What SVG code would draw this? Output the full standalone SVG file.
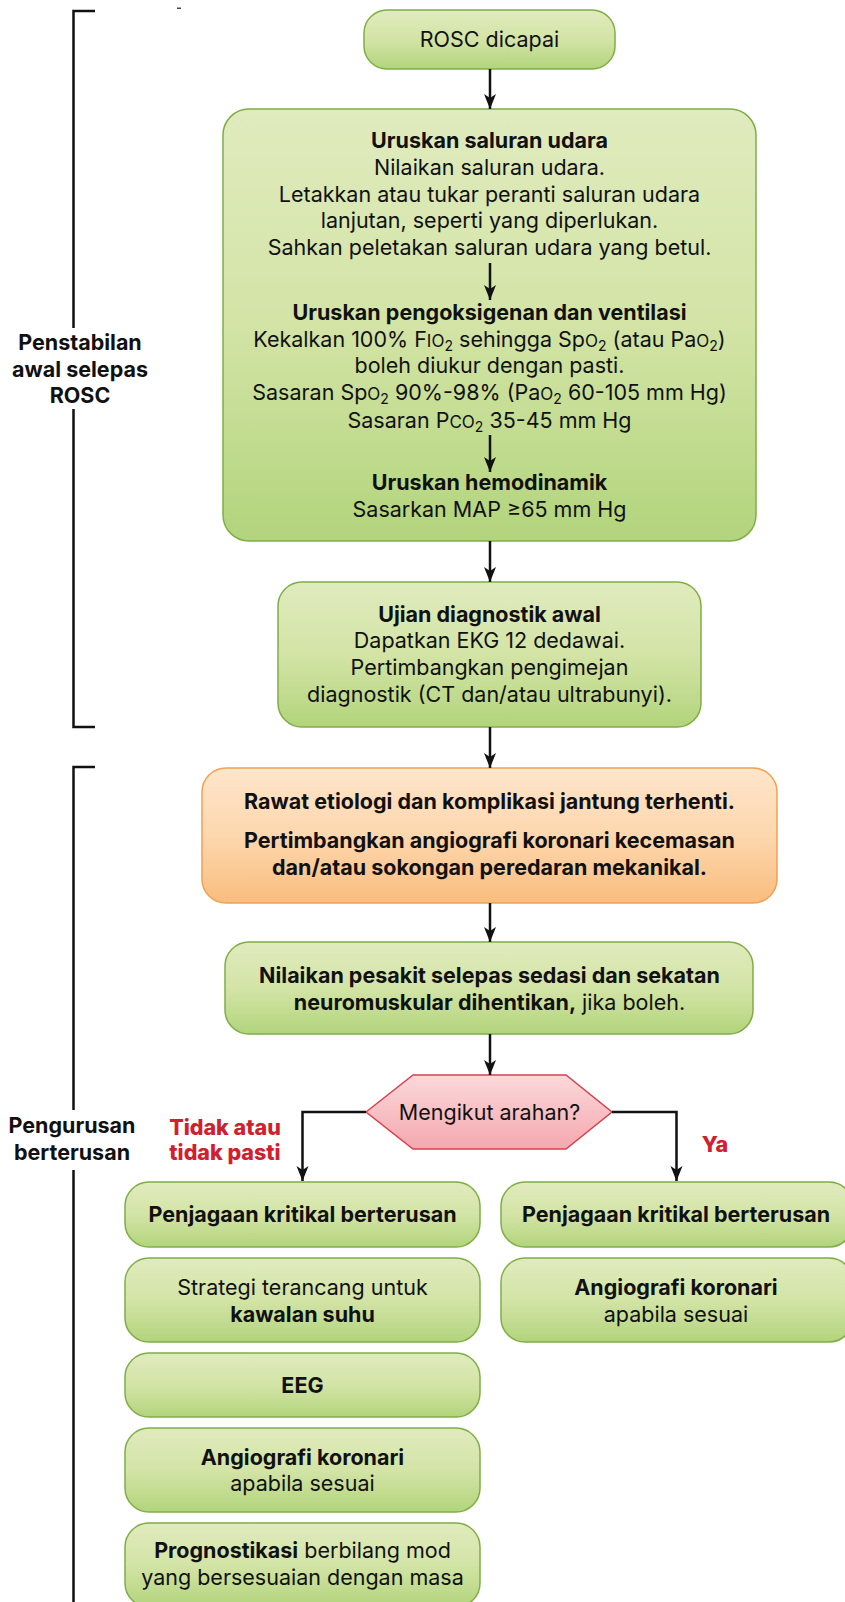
<svg xmlns="http://www.w3.org/2000/svg" width="845" height="1602" viewBox="0 0 845 1602">
<style>
.t{font-family:Inter,"Liberation Sans",Arial,sans-serif;font-size:21.5px;fill:#111;text-anchor:middle}
.b{font-weight:700}
.red{fill:#d0202f;font-weight:800}
.sc{font-size:17px}
.sub{font-size:14px}
.g{fill:url(#gg);stroke:#7fae45;stroke-width:1.5}
.o{fill:url(#go);stroke:#eea252;stroke-width:1.5}
.p{fill:url(#gp);stroke:#d8404e;stroke-width:1.5}
.c{fill:none;stroke:#111;stroke-width:2.5}
.br{fill:none;stroke:#111;stroke-width:2.5}
</style>
<defs>
<linearGradient id="gg" x1="0" y1="0" x2="0" y2="1"><stop offset="0" stop-color="#e0ebbe"/><stop offset="0.5" stop-color="#d3e4a6"/><stop offset="1" stop-color="#b2d47c"/></linearGradient>
<linearGradient id="go" x1="0" y1="0" x2="0" y2="1"><stop offset="0" stop-color="#fee5cb"/><stop offset="0.5" stop-color="#fdd7ae"/><stop offset="1" stop-color="#f9bd7e"/></linearGradient>
<linearGradient id="gp" x1="0" y1="0" x2="0" y2="1"><stop offset="0" stop-color="#fbd8da"/><stop offset="1" stop-color="#f4a8af"/></linearGradient>
<marker id="ah" markerUnits="userSpaceOnUse" markerWidth="16" markerHeight="14" viewBox="0 0 16 14" refX="15" refY="7" orient="auto"><path d="M0,1 L15,7 L0,13 L4,7 z" fill="#111"/></marker>
</defs>

<g id="brackets">
<path class="br" d="M95,11 H73.5 V328 M73.5,409 V727 H95"/>
<path class="br" d="M95,767 H73.5 V1110 M73.5,1170 V1610"/>
<rect x="177" y="7.5" width="4" height="1.5" fill="#444"/>
</g>

<g id="label-awal">
<text class="t b" x="80" y="350">Penstabilan</text>
<text class="t b" x="80" y="377">awal selepas</text>
<text class="t b" x="80" y="403">ROSC</text>
</g>
<g id="label-berterusan">
<text class="t b" x="72" y="1133">Pengurusan</text>
<text class="t b" x="72" y="1160">berterusan</text>
</g>

<g id="rosc">
<rect class="g" x="364" y="10" width="251" height="59" rx="23"/>
<text class="t" x="489.5" y="47">ROSC dicapai</text>
</g>

<g id="uruskan">
<rect class="g" x="223" y="109" width="533" height="432" rx="26"/>
<text class="t b" x="489.5" y="148">Uruskan saluran udara</text>
<text class="t" x="489.5" y="175">Nilaikan saluran udara.</text>
<text class="t" x="489.5" y="202">Letakkan atau tukar peranti saluran udara</text>
<text class="t" x="489.5" y="228">lanjutan, seperti yang diperlukan.</text>
<text class="t" x="489.5" y="255">Sahkan peletakan saluran udara yang betul.</text>
<text class="t b" x="489.5" y="320">Uruskan pengoksigenan dan ventilasi</text>
<text class="t" x="489.5" y="347">Kekalkan 100% F<tspan class="sc">IO</tspan><tspan class="sub" dy="4">2</tspan><tspan dy="-4"> sehingga Sp</tspan><tspan class="sc">O</tspan><tspan class="sub" dy="4">2</tspan><tspan dy="-4"> (atau Pa</tspan><tspan class="sc">O</tspan><tspan class="sub" dy="4">2</tspan><tspan dy="-4">)</tspan></text>
<text class="t" x="489.5" y="373">boleh diukur dengan pasti.</text>
<text class="t" x="489.5" y="400">Sasaran Sp<tspan class="sc">O</tspan><tspan class="sub" dy="4">2</tspan><tspan dy="-4"> 90%-98% (Pa</tspan><tspan class="sc">O</tspan><tspan class="sub" dy="4">2</tspan><tspan dy="-4"> 60-105 mm Hg)</tspan></text>
<text class="t" x="489.5" y="428">Sasaran P<tspan class="sc">CO</tspan><tspan class="sub" dy="4">2</tspan><tspan dy="-4"> 35-45 mm Hg</tspan></text>
<text class="t b" x="489.5" y="490">Uruskan hemodinamik</text>
<text class="t" x="489.5" y="517">Sasarkan MAP ≥65 mm Hg</text>
</g>

<g id="ujian">
<rect class="g" x="278" y="582" width="423" height="145" rx="24"/>
<text class="t b" x="489.5" y="622">Ujian diagnostik awal</text>
<text class="t" x="489.5" y="648">Dapatkan EKG 12 dedawai.</text>
<text class="t" x="489.5" y="675">Pertimbangkan pengimejan</text>
<text class="t" x="489.5" y="702">diagnostik (CT dan/atau ultrabunyi).</text>
</g>

<g id="rawat">
<rect class="o" x="202" y="768" width="575" height="135" rx="24"/>
<text class="t b" x="489.5" y="809">Rawat etiologi dan komplikasi jantung terhenti.</text>
<text class="t b" x="489.5" y="848">Pertimbangkan angiografi koronari kecemasan</text>
<text class="t b" x="489.5" y="875">dan/atau sokongan peredaran mekanikal.</text>
</g>

<g id="nilaikan">
<rect class="g" x="225" y="942" width="528" height="92" rx="24"/>
<text class="t b" x="489.5" y="983">Nilaikan pesakit selepas sedasi dan sekatan</text>
<text class="t" x="489.5" y="1010"><tspan class="b">neuromuskular dihentikan,</tspan> jika boleh.</text>
</g>

<g id="arahan">
<polygon class="p" points="366,1112 413,1075 566,1075 612,1112 566,1149 413,1149"/>
<text class="t" x="489.5" y="1120">Mengikut arahan?</text>
</g>

<g id="kritikal-l">
<rect class="g" x="125" y="1182" width="355" height="65" rx="24"/>
<text class="t b" x="302.5" y="1222">Penjagaan kritikal berterusan</text>
</g>
<g id="suhu">
<rect class="g" x="125" y="1258" width="355" height="84" rx="24"/>
<text class="t" x="302.5" y="1295">Strategi terancang untuk</text>
<text class="t b" x="302.5" y="1322">kawalan suhu</text>
</g>
<g id="eeg">
<rect class="g" x="125" y="1353" width="355" height="64" rx="24"/>
<text class="t b" x="302.5" y="1393">EEG</text>
</g>
<g id="angio-l">
<rect class="g" x="125" y="1428" width="355" height="84" rx="24"/>
<text class="t b" x="302.5" y="1465">Angiografi koronari</text>
<text class="t" x="302.5" y="1491">apabila sesuai</text>
</g>
<g id="prognostikasi">
<rect class="g" x="125" y="1523" width="355" height="84" rx="24"/>
<text class="t" x="302.5" y="1558"><tspan class="b">Prognostikasi</tspan> berbilang mod</text>
<text class="t" x="302.5" y="1585">yang bersesuaian dengan masa</text>
</g>
<g id="kritikal-r">
<rect class="g" x="501" y="1182" width="352" height="65" rx="24"/>
<text class="t b" x="676" y="1222">Penjagaan kritikal berterusan</text>
</g>
<g id="angio-r">
<rect class="g" x="501" y="1258" width="352" height="84" rx="24"/>
<text class="t b" x="676" y="1295">Angiografi koronari</text>
<text class="t" x="676" y="1322">apabila sesuai</text>
</g>

<g id="connectors">
<line class="c" x1="490" y1="69" x2="490" y2="109" marker-end="url(#ah)"/>
<line class="c" x1="490" y1="263" x2="490" y2="300" marker-end="url(#ah)"/>
<line class="c" x1="490" y1="435" x2="490" y2="472" marker-end="url(#ah)"/>
<line class="c" x1="490" y1="541" x2="490" y2="582" marker-end="url(#ah)"/>
<line class="c" x1="490" y1="727" x2="490" y2="768" marker-end="url(#ah)"/>
<line class="c" x1="490" y1="903" x2="490" y2="942" marker-end="url(#ah)"/>
<line class="c" x1="490" y1="1034" x2="490" y2="1075" marker-end="url(#ah)"/>
<path class="c" d="M366,1112 H302.5 V1181" marker-end="url(#ah)"/>
<path class="c" d="M612,1112 H676.5 V1181" marker-end="url(#ah)"/>
<text class="t red" x="225" y="1135">Tidak atau</text>
<text class="t red" x="225" y="1160">tidak pasti</text>
<text class="t red" x="715" y="1152">Ya</text>
</g>
</svg>
